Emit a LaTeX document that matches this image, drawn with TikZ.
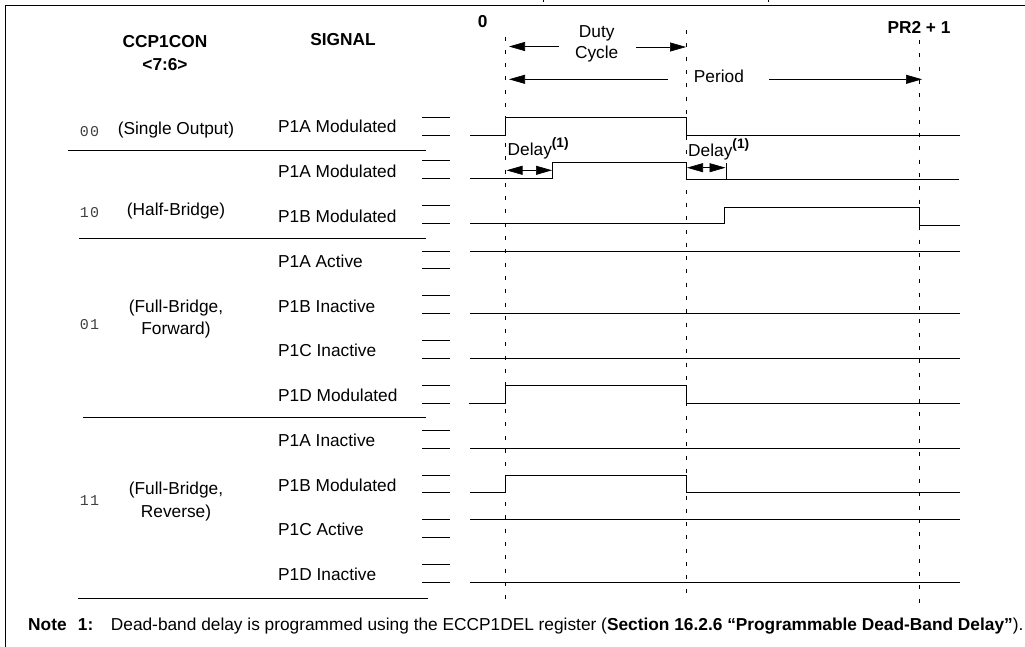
\documentclass[tikz,border=0pt]{standalone}
\usepackage{fontspec}
\setmainfont{Liberation Sans}
\setmonofont[LetterSpace=7]{Liberation Mono}
\usetikzlibrary{arrows.meta}
\newcommand{\supone}{\raisebox{7.5pt}{\fontsize{13.7}{14}\selectfont\bfseries (1)}}
\tikzset{
 x=1pt,y=-1pt,
 ln/.style={line width=0.75pt,black},
 dashln/.style={line width=0.65pt,dash pattern=on 4pt off 9.3pt},
 wave/.style={line width=0.9pt,black,line join=miter},
 lab/.style={font=\fontsize{17.3}{20}\selectfont,inner sep=0,anchor=west,text height=12.5pt,text depth=2.5pt},
 blab/.style={font=\fontsize{17.3}{20}\selectfont\bfseries,inner sep=0,anchor=west,text height=12.5pt,text depth=2.5pt},
 ctr/.style={font=\fontsize{17.3}{22.5}\selectfont,inner sep=0,align=center},
 bld/.style={font=\fontsize{17.3}{22.5}\selectfont\bfseries,inner sep=0,align=center},
 codetxt/.style={font=\fontsize{15}{18}\selectfont\ttfamily,inner sep=0,text=black!75},
 harrow/.style={line width=0.65pt,-{Triangle[length=16pt,width=9pt]}},
 darrow/.style={line width=0.65pt,{Triangle[length=16pt,width=9pt]}-{Triangle[length=16pt,width=9pt]}}
}
\begin{document}
\begin{tikzpicture}
\useasboundingbox (0,0) rectangle (1025,646);
\draw[ln] (1026,5.3) -- (5.3,5.3) -- (5.3,647);
\draw[ln] (543,0) -- (543,1.5) (768,0) -- (768,1.5);
% header text
\node[bld] (hccp) at (165,53) {CCP1CON\\<7:6>};
\node[bld] (hsig) at (343,40) {SIGNAL};
\node[bld] (h0) at (482.7,22) {0};
\node[bld] (hpr) at (919,27.7) {PR2 + 1};
% modes
\node[codetxt] (c00) at (89.5,131.5) {00};
\node[codetxt] (c10) at (89.5,212.5) {10};
\node[codetxt] (c01) at (89.5,324.5) {01};
\node[codetxt] (c11) at (89.5,500.8) {11};
\node[ctr] (m00) at (176,130.3) {(Single Output)};
\node[ctr] (m10) at (176,211.3) {(Half-Bridge)};
\node[ctr] (m01) at (176,319) {(Full-Bridge,\\Forward)};
\node[ctr] (m11) at (176,501.5) {(Full-Bridge,\\Reverse)};
% separators
\draw[ln] (68,150.3) -- (426,150.3);
\draw[ln] (79,238.3) -- (426,238.3);
\draw[ln] (83,417.3) -- (426,417.3);
\draw[ln] (78,598.3) -- (428,598.3);
% signal names + stubs
\foreach \n/\t/\c/\a/\b in {
 a/P1A Modulated/127/117.3/135.3,
 b/P1A Modulated/172/160.3/178.3,
 d/P1B Modulated/217/205.3/223.3,
 e/P1A Active/262/251.3/268,
 f/P1B Inactive/307/295.3/313.3,
 g/P1C Inactive/351.7/340/358,
 h/P1D Modulated/396.7/385.3/403.3,
 i/P1A Inactive/441/430.3/448.3,
 j/P1B Modulated/486/475.3/492.3,
 k/P1C Active/530.7/519.3/537.3,
 l/P1D Inactive/575.7/564/582.3}{
 \node[lab] (s\n) at (278,\c) {\t};
 \draw[ln] (422,\a) -- (450,\a) (422,\b) -- (450,\b);
}
% dashed time markers
\draw[dashln] (505.5,36.5) -- (505.5,601);
\draw[dashln] (686.5,30) -- (686.5,601);
\draw[dashln] (919,40) -- (919,604);
% waveforms
\draw[wave] (470,135.3) -- (505.5,135.3) -- (505.5,117.3) -- (686,117.3) -- (686,135.3) -- (960,135.3);
\draw[wave] (470,178.3) -- (552.5,178.3) -- (552.5,162.3) -- (686.5,162.3) -- (686.5,179.3) -- (959,179.3);
\draw[wave] (470,223.3) -- (724.3,223.3) -- (724.3,207.3) -- (919.3,207.3) -- (919.3,225.3) -- (960,225.3);
\draw[wave] (470,251.3) -- (960,251.3);
\draw[wave] (470,313.3) -- (960,313.3);
\draw[wave] (470,358) -- (960,358);
\draw[wave] (469,403.3) -- (505.5,403.3) -- (505.5,385.3) -- (686,385.3) -- (686,403.3) -- (960,403.3);
\draw[wave] (470,448.3) -- (960,448.3);
\draw[wave] (470,492.3) -- (505.5,492.3) -- (505.5,475.3) -- (686,475.3) -- (686,492.3) -- (960,492.3);
\draw[wave] (470,519.3) -- (960,519.3);
\draw[wave] (470,582.3) -- (960,582.3);
% dimension labels
\node[ctr,font=\fontsize{17.3}{21}\selectfont] (duty) at (596.7,44) {Duty\\Cycle};
\node[lab] (per) at (693.7,77) {Period};
\node[lab] (del1) at (507.5,150) {Delay\supone};
\node[lab] (del2) at (688,151) {Delay\supone};
% arrows
\draw[harrow] (559,46.5) -- (509,46.5);
\draw[harrow] (636,47) -- (686,47);
\draw[harrow] (667.6,79.3) -- (509,79.3);
\draw[harrow] (769,79.3) -- (922,79.3);
\draw[darrow] (506.5,170.3) -- (552,170.3);
\draw[darrow] (687,167.7) -- (725.5,167.7);
\draw[line width=0.5pt] (726.5,163) -- (726.5,179);
% note
\node[blab] (nt) at (28,625) {Note};
\node[blab] (nt1) at (77.7,625) {1:};
\node[lab] (ntx) at (110.7,625) {Dead-band delay is programmed using the ECCP1DEL register (\textbf{Section 16.2.6 “Programmable Dead-Band Delay”}).};
\end{tikzpicture}
\end{document}
